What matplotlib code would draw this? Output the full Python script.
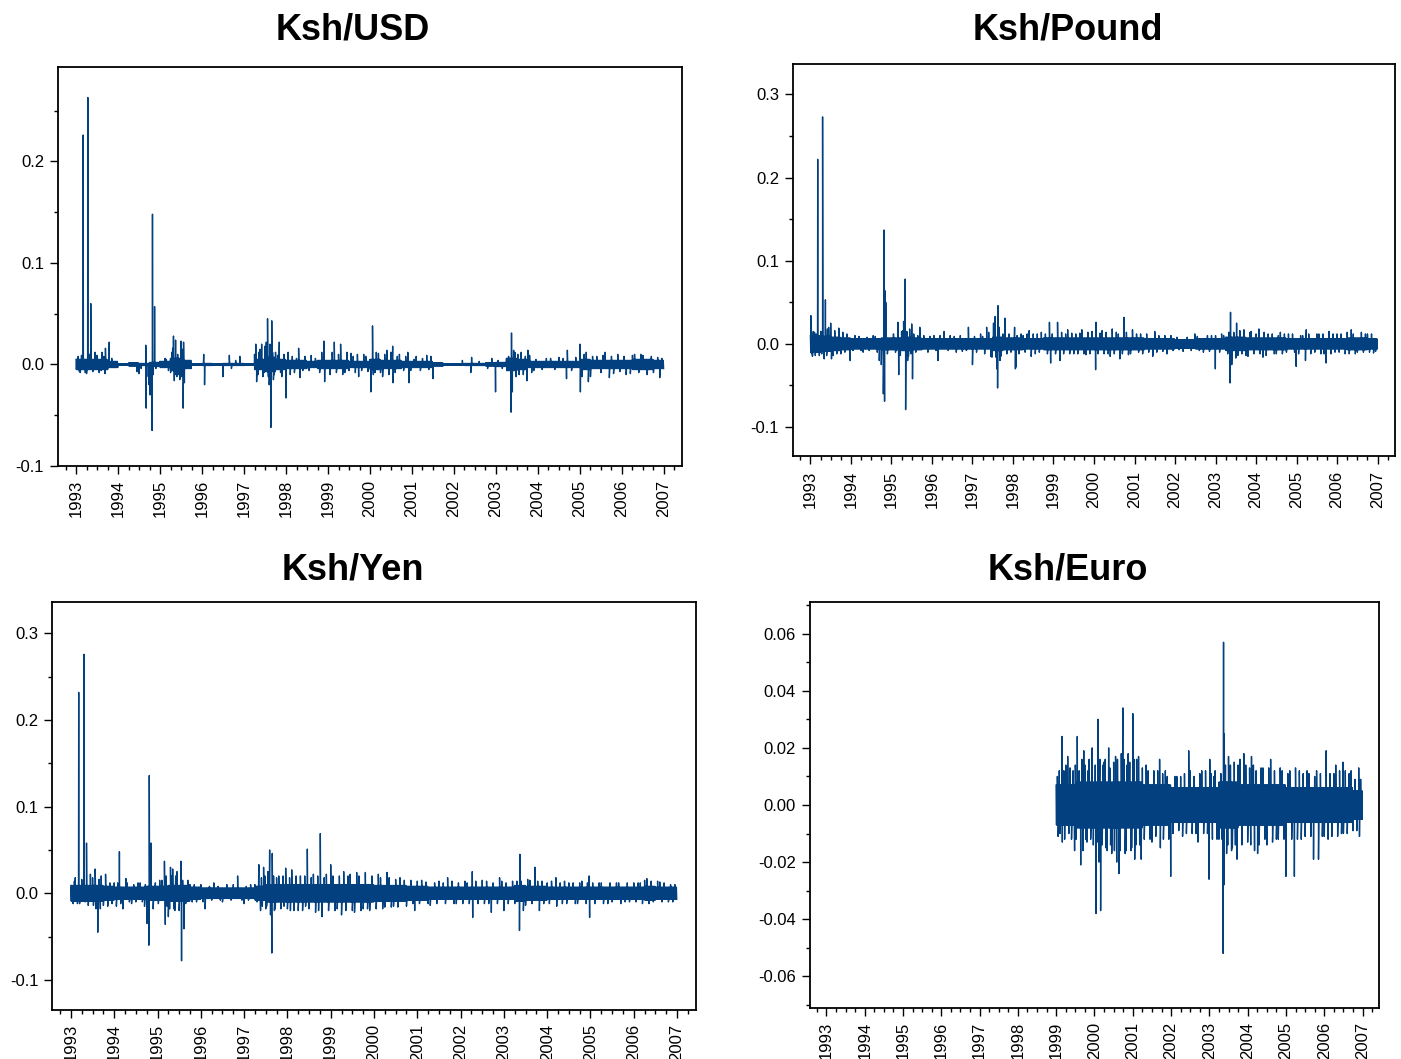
import numpy as np
import matplotlib
matplotlib.use("Agg")
import matplotlib.pyplot as plt
from matplotlib.ticker import MultipleLocator, FixedLocator

plt.rcParams['font.family'] = ['Liberation Sans', 'DejaVu Sans']

# ---------------- data ----------------
years = list(range(1993, 2008))
year_labels = [str(y) for y in years]

# quarterly half-width of the dense core of daily returns (1993Q1..2006Q4)
usd_band = [0.005, 0.005, 0.005, 0.003, 0.0008, 0.0015, 0.001, 0.002,
            0.003, 0.006, 0.004, 0.0008, 0.001, 0.0008, 0.001, 0.001,
            0.0008, 0.005, 0.007, 0.005, 0.004, 0.004, 0.003, 0.004,
            0.004, 0.004, 0.003, 0.003, 0.005, 0.004, 0.004, 0.003,
            0.003, 0.003, 0.0015, 0.0008, 0.0008, 0.001, 0.001, 0.0015,
            0.002, 0.006, 0.005, 0.003, 0.003, 0.003, 0.003, 0.003,
            0.005, 0.004, 0.004, 0.004, 0.004, 0.005, 0.005, 0.004]
# large individual moves
usd_spike_t = [1993.02, 1993.10, 1993.17, 1993.22, 1993.28, 1993.35, 1993.45, 1993.55, 1993.62, 1993.69,
               1993.70, 1993.79, 1994.45, 1994.50, 1994.55, 1994.66, 1994.67, 1994.72, 1994.74, 1994.76,
               1994.78, 1994.80, 1994.81, 1994.82, 1994.84, 1994.87, 1994.90, 1995.12, 1995.20, 1995.28,
               1995.32, 1995.34, 1995.37, 1995.40, 1995.45, 1995.50, 1995.52, 1995.55, 1995.56, 1995.58,
               1996.04, 1996.06, 1996.50, 1996.65, 1996.90, 1997.28, 1997.30, 1997.35, 1997.42, 1997.45,
               1997.50, 1997.56, 1997.60, 1997.64, 1997.66, 1997.70, 1997.75, 1997.84, 1997.90, 1998.00,
               1998.05, 1998.10, 1998.30, 1998.33, 1998.60, 1998.90, 1998.92, 1999.15, 1999.20, 1999.30,
               1999.40, 1999.55, 1999.73, 1999.85, 2000.02, 2000.06, 2000.08, 2000.15, 2000.30, 2000.40,
               2000.54, 2000.55, 2000.70, 2000.90, 2000.93, 2001.10, 2001.35, 2001.50, 2002.20, 2002.40,
               2002.42, 2002.90, 2002.99, 2003.36, 2003.37, 2003.39, 2003.45, 2003.55, 2003.60, 2003.74,
               2003.76, 2003.85, 2004.30, 2004.50, 2004.68, 2004.70, 2005.00, 2005.01, 2005.10, 2005.20,
               2005.40, 2005.60, 2005.70, 2005.90, 2006.10, 2006.30, 2006.50, 2006.60, 2006.90, 2006.95]
usd_spike_v = [0.004, -0.008, 0.226, -0.008, 0.263, 0.060, 0.012, -0.008, 0.012, -0.009,
               0.016, 0.022, -0.007, -0.009, -0.004, 0.019, -0.043, -0.012, -0.020, -0.030,
               -0.028, -0.030, -0.065, 0.148, -0.010, 0.057, -0.004, 0.006, -0.006, 0.012,
               0.028, -0.016, 0.024, -0.012, -0.010, 0.023, -0.012, -0.043, 0.022, -0.018,
               0.010, -0.020, -0.012, 0.009, 0.008, 0.020, -0.017, 0.012, 0.020, -0.012,
               0.018, 0.045, -0.020, -0.062, 0.043, -0.015, 0.012, 0.022, -0.012, -0.033,
               0.012, -0.010, 0.016, -0.013, 0.009, 0.023, -0.017, 0.022, -0.008, 0.020,
               -0.008, 0.011, -0.012, 0.010, -0.027, 0.038, -0.010, 0.012, -0.012, 0.014,
               0.018, -0.018, 0.010, 0.012, -0.018, 0.008, 0.009, -0.014, 0.004, -0.008,
               0.007, 0.006, -0.027, -0.047, 0.031, -0.027, 0.012, -0.010, 0.012, -0.016,
               0.014, -0.008, 0.006, 0.007, -0.014, 0.014, 0.020, -0.027, 0.010, -0.017,
               0.008, 0.012, -0.013, 0.010, -0.010, 0.010, 0.009, -0.010, -0.013, 0.006]
# smaller moves that make the ragged edge of the band
usd_mid = [(1993.05, 0.008), (1993.08, -0.007), (1993.13, 0.009), (1993.25, -0.009), (1993.32, 0.010),
           (1993.40, -0.007), (1993.50, 0.009), (1993.60, -0.006), (1993.66, 0.008), (1993.75, -0.005),
           (1993.85, 0.006), (1993.90, -0.003), (1995.15, 0.005), (1995.25, -0.008), (1995.30, 0.016),
           (1995.36, -0.010), (1995.42, 0.010), (1995.47, -0.015), (1995.53, 0.015), (1996.70, -0.004),
           (1996.80, 0.004), (1997.25, 0.010), (1997.33, -0.010), (1997.38, 0.015), (1997.48, -0.008),
           (1997.53, 0.022), (1997.58, -0.012), (1997.62, 0.020), (1997.68, 0.012), (1997.72, -0.010),
           (1997.80, 0.009), (1997.87, -0.008), (1997.95, 0.010), (1998.15, 0.008), (1998.20, -0.008),
           (1998.25, 0.006), (1998.40, -0.006), (1998.45, 0.008), (1998.55, -0.006), (1998.70, 0.006),
           (1998.80, -0.008), (1998.85, 0.012), (1999.05, -0.010), (1999.10, 0.012), (1999.25, 0.010),
           (1999.35, -0.010), (1999.45, 0.012), (1999.50, -0.006), (1999.60, 0.008), (1999.65, -0.008),
           (1999.70, 0.010), (1999.80, -0.006), (1999.90, 0.008), (1999.95, -0.007), (2000.12, -0.008),
           (2000.20, 0.011), (2000.25, -0.008), (2000.35, 0.010), (2000.45, -0.010), (2000.50, 0.012),
           (2000.60, -0.008), (2000.65, 0.008), (2000.80, -0.006), (2000.85, 0.008), (2000.97, -0.006),
           (2001.05, 0.005), (2001.20, -0.006), (2001.25, 0.006), (2001.40, -0.005), (2001.45, 0.008),
           (2002.60, 0.003), (2002.80, -0.004), (2003.05, 0.004), (2003.15, -0.004), (2003.30, 0.008),
           (2003.42, 0.014), (2003.48, -0.012), (2003.52, 0.010), (2003.65, -0.010), (2003.70, 0.008),
           (2003.80, 0.009), (2003.90, -0.006), (2003.95, 0.005), (2004.10, -0.005), (2004.20, 0.006),
           (2004.40, -0.005), (2004.60, 0.006), (2004.80, -0.006), (2004.90, 0.007), (2005.05, -0.012),
           (2005.15, 0.012), (2005.25, -0.012), (2005.30, 0.008), (2005.50, -0.008), (2005.55, 0.009),
           (2005.75, 0.008), (2005.80, -0.009), (2005.95, -0.007), (2006.05, 0.008), (2006.20, -0.009),
           (2006.25, 0.009), (2006.40, -0.008), (2006.45, 0.010), (2006.70, 0.008), (2006.75, -0.008),
           (2006.85, 0.007)]

pound_band = [0.010, 0.009, 0.008, 0.007, 0.006, 0.006, 0.006, 0.007,
              0.007, 0.008, 0.007, 0.006, 0.006, 0.006, 0.006, 0.006,
              0.006, 0.006, 0.008, 0.007, 0.007, 0.006, 0.006, 0.007,
              0.007, 0.007, 0.007, 0.007, 0.007, 0.007, 0.007, 0.007,
              0.007, 0.006, 0.006, 0.006, 0.005, 0.005, 0.006, 0.006,
              0.006, 0.008, 0.008, 0.007, 0.007, 0.007, 0.007, 0.006,
              0.006, 0.006, 0.006, 0.006, 0.006, 0.007, 0.007, 0.006]
pound_spike_t = [1993.01, 1993.05, 1993.10, 1993.18, 1993.22, 1993.30, 1993.34, 1993.37, 1993.45, 1993.50,
                 1993.52, 1993.70, 1993.75, 1993.98, 1994.10, 1994.30, 1994.55, 1994.70, 1994.75, 1994.80,
                 1994.82, 1994.83, 1994.84, 1994.86, 1994.90, 1995.05, 1995.16, 1995.18, 1995.25, 1995.30,
                 1995.34, 1995.35, 1995.40, 1995.45, 1995.50, 1995.52, 1995.70, 1995.90, 1996.15, 1996.30,
                 1996.60, 1996.90, 1997.00, 1997.20, 1997.35, 1997.45, 1997.52, 1997.56, 1997.60, 1997.62,
                 1997.63, 1997.70, 1997.80, 1997.85, 1998.04, 1998.06, 1998.07, 1998.20, 1998.40, 1998.45,
                 1998.70, 1998.90, 1998.93, 1999.10, 1999.16, 1999.35, 1999.50, 1999.70, 1999.80, 1999.95,
                 2000.04, 2000.05, 2000.20, 2000.40, 2000.45, 2000.64, 2000.74, 2000.85, 2000.95, 2001.20,
                 2001.45, 2001.50, 2001.80, 2001.90, 2002.20, 2002.49, 2002.70, 2002.995, 2003.00, 2003.20,
                 2003.36, 2003.37, 2003.40, 2003.50, 2003.52, 2003.70, 2003.80, 2003.88, 2004.07, 2004.17,
                 2004.30, 2004.50, 2004.60, 2004.80, 2004.99, 2005.10, 2005.22, 2005.24, 2005.50, 2005.60,
                 2005.73, 2005.80, 2006.00, 2006.20, 2006.35, 2006.50, 2006.70, 2006.90]
pound_spike_v = [0.034, -0.015, 0.014, 0.222, -0.014, 0.273, -0.018, 0.053, 0.020, 0.025,
                 -0.018, 0.019, -0.012, -0.020, 0.010, -0.010, 0.010, -0.020, -0.025, -0.060,
                 0.137, -0.069, 0.064, 0.050, -0.012, 0.012, 0.026, -0.037, 0.015, 0.027,
                 0.078, -0.079, -0.020, 0.018, 0.024, -0.042, 0.020, -0.010, -0.020, 0.015,
                 -0.010, 0.020, -0.025, 0.012, 0.020, -0.015, 0.025, 0.033, -0.030, -0.053,
                 0.046, -0.015, 0.031, -0.012, 0.020, -0.030, -0.028, 0.012, 0.016, -0.015,
                 0.014, 0.026, -0.023, 0.026, -0.020, 0.017, -0.012, 0.017, -0.013, 0.015,
                 -0.031, 0.026, 0.016, -0.015, 0.018, -0.018, 0.032, -0.013, 0.017, -0.012,
                 -0.015, 0.015, -0.012, 0.010, -0.009, 0.012, -0.010, -0.030, 0.010, 0.010,
                 -0.047, 0.038, -0.025, -0.017, 0.025, 0.017, -0.015, 0.015, 0.018, -0.016,
                 0.012, -0.012, 0.014, 0.012, -0.027, 0.010, -0.020, 0.017, 0.012, -0.012,
                 -0.023, 0.015, 0.012, -0.012, 0.017, -0.010, 0.012, -0.011]
pound_mid = [(1993.03, -0.012), (1993.07, 0.015), (1993.12, -0.014), (1993.14, 0.012), (1993.26, 0.015),
             (1993.28, -0.012), (1993.40, -0.014), (1993.42, 0.018), (1993.56, -0.014), (1993.60, 0.016),
             (1993.65, -0.012), (1993.80, 0.014), (1993.85, -0.010), (1993.90, 0.012), (1994.05, -0.008),
             (1994.20, 0.009), (1994.25, -0.008), (1994.40, 0.008), (1994.45, -0.008), (1994.60, 0.009),
             (1994.65, -0.010), (1995.10, -0.010), (1995.22, -0.014), (1995.28, 0.016), (1995.38, 0.015),
             (1995.42, -0.015), (1995.48, -0.012), (1995.55, 0.012), (1995.60, -0.010), (1995.65, 0.010),
             (1995.80, 0.010), (1995.95, 0.009), (1996.05, 0.010), (1996.10, -0.008), (1996.20, 0.010),
             (1996.40, -0.008), (1996.45, 0.010), (1996.55, 0.009), (1996.70, 0.010), (1996.75, -0.009),
             (1996.85, -0.008), (1997.05, 0.009), (1997.10, -0.010), (1997.25, 0.009), (1997.30, -0.012),
             (1997.40, 0.014), (1997.48, -0.016), (1997.54, 0.020), (1997.58, -0.016), (1997.66, 0.020),
             (1997.68, -0.020), (1997.75, 0.012), (1997.90, 0.012), (1997.95, -0.010), (1998.10, 0.010),
             (1998.15, -0.012), (1998.25, 0.010), (1998.30, -0.010), (1998.35, 0.012), (1998.50, 0.012),
             (1998.55, -0.012), (1998.60, 0.012), (1998.65, -0.010), (1998.80, 0.012), (1998.85, -0.012),
             (1998.97, 0.012), (1999.05, -0.012), (1999.20, 0.014), (1999.25, -0.012), (1999.30, 0.012),
             (1999.40, -0.012), (1999.45, 0.013), (1999.55, 0.012), (1999.60, -0.012), (1999.65, 0.013),
             (1999.75, -0.012), (1999.85, 0.014), (1999.90, -0.012), (2000.10, -0.012), (2000.15, 0.013),
             (2000.25, -0.012), (2000.30, 0.014), (2000.35, -0.012), (2000.50, -0.012), (2000.55, 0.014),
             (2000.60, 0.012), (2000.70, -0.012), (2000.80, 0.014), (2000.90, -0.012), (2001.05, 0.012),
             (2001.10, -0.010), (2001.15, 0.012), (2001.30, 0.012), (2001.35, -0.010), (2001.55, -0.010),
             (2001.60, 0.010), (2001.70, -0.009), (2001.75, 0.010), (2001.95, -0.008), (2002.05, 0.008),
             (2002.10, -0.007), (2002.30, 0.008), (2002.40, -0.008), (2002.55, 0.009), (2002.60, -0.008),
             (2002.80, 0.010), (2002.85, -0.009), (2002.90, 0.010), (2003.10, -0.010), (2003.15, 0.012),
             (2003.30, -0.012), (2003.33, 0.014), (2003.45, 0.014), (2003.55, -0.014), (2003.60, 0.016),
             (2003.65, -0.012), (2003.75, -0.014), (2003.85, 0.014), (2003.95, -0.012), (2004.00, 0.012),
             (2004.10, -0.012), (2004.20, 0.014), (2004.25, -0.014), (2004.40, 0.012), (2004.45, -0.012),
             (2004.55, 0.010), (2004.65, -0.012), (2004.70, 0.012), (2004.75, -0.010), (2004.90, 0.012),
             (2004.95, -0.010), (2005.05, -0.012), (2005.15, 0.010), (2005.30, 0.012), (2005.35, -0.012),
             (2005.45, -0.010), (2005.55, 0.012), (2005.65, 0.012), (2005.68, -0.012), (2005.85, -0.012),
             (2005.90, 0.012), (2005.95, -0.010), (2006.05, -0.010), (2006.10, 0.012), (2006.25, 0.014),
             (2006.30, -0.012), (2006.40, 0.012), (2006.45, -0.012), (2006.60, 0.014), (2006.65, -0.010),
             (2006.75, 0.012), (2006.80, -0.010), (2006.85, 0.012), (2006.95, -0.009)]

yen_band = [0.009, 0.009, 0.009, 0.008, 0.007, 0.007, 0.007, 0.008,
            0.008, 0.009, 0.009, 0.007, 0.006, 0.006, 0.006, 0.006,
            0.006, 0.008, 0.010, 0.010, 0.010, 0.010, 0.010, 0.010,
            0.010, 0.010, 0.010, 0.010, 0.009, 0.009, 0.009, 0.008,
            0.008, 0.007, 0.007, 0.007, 0.007, 0.007, 0.007, 0.007,
            0.007, 0.009, 0.008, 0.008, 0.007, 0.007, 0.007, 0.007,
            0.007, 0.007, 0.007, 0.007, 0.007, 0.008, 0.007, 0.007]
yen_spike_t = [1993.01, 1993.10, 1993.15, 1993.18, 1993.30, 1993.33, 1993.36, 1993.45, 1993.56, 1993.58,
               1993.62, 1993.70, 1993.80, 1993.85, 1994.00, 1994.05, 1994.12, 1994.20, 1994.27, 1994.40,
               1994.55, 1994.65, 1994.76, 1994.80, 1994.81, 1994.85, 1994.90, 1995.05, 1995.16, 1995.18,
               1995.25, 1995.30, 1995.35, 1995.40, 1995.45, 1995.54, 1995.555, 1995.61, 1995.70, 1995.80,
               1996.10, 1996.30, 1996.50, 1996.60, 1996.85, 1997.00, 1997.15, 1997.34, 1997.38, 1997.45,
               1997.50, 1997.55, 1997.59, 1997.61, 1997.64, 1997.65, 1997.70, 1997.80, 1997.96, 1998.00,
               1998.10, 1998.15, 1998.30, 1998.35, 1998.46, 1998.50, 1998.60, 1998.65, 1998.76, 1998.80,
               1998.90, 1999.00, 1999.10, 1999.25, 1999.30, 1999.45, 1999.55, 1999.60, 1999.75, 1999.80,
               1999.90, 2000.10, 2000.20, 2000.30, 2000.45, 2000.60, 2000.94, 2001.10, 2001.30, 2001.50,
               2001.70, 2001.90, 2002.10, 2002.27, 2002.28, 2002.50, 2002.71, 2002.90, 2003.00, 2003.20,
               2003.36, 2003.37, 2003.45, 2003.60, 2003.72, 2003.82, 2004.00, 2004.20, 2004.22, 2004.50,
               2004.70, 2004.80, 2004.97, 2004.98, 2005.20, 2005.40, 2005.60, 2005.80, 2006.10, 2006.30,
               2006.35, 2006.60, 2006.80]
yen_spike_v = [0.005, 0.018, -0.012, 0.232, 0.276, -0.010, 0.058, 0.022, 0.028, -0.018,
               -0.045, 0.020, 0.022, -0.015, 0.012, -0.015, 0.048, -0.018, 0.017, -0.012,
               0.012, -0.010, -0.035, -0.060, 0.136, 0.058, -0.018, 0.015, 0.037, -0.036,
               -0.027, 0.030, 0.028, -0.020, 0.025, 0.037, -0.078, -0.041, 0.015, -0.010,
               -0.018, 0.012, -0.010, 0.010, 0.020, -0.012, 0.010, 0.033, -0.020, 0.030,
               -0.018, 0.025, 0.050, -0.025, -0.069, 0.046, -0.020, 0.020, 0.029, -0.018,
               0.027, -0.020, 0.020, -0.020, 0.051, -0.018, 0.022, -0.022, 0.069, -0.027,
               0.022, 0.033, -0.020, -0.025, 0.025, 0.022, -0.022, 0.024, -0.018, 0.024,
               -0.020, 0.022, -0.018, 0.024, -0.015, 0.018, -0.020, 0.015, -0.014, 0.014,
               0.018, -0.012, 0.014, 0.025, -0.028, 0.015, -0.022, 0.018, -0.020, 0.014,
               -0.043, 0.045, -0.020, 0.015, 0.030, -0.020, 0.012, 0.018, -0.015, 0.012,
               -0.012, 0.014, 0.020, -0.028, 0.012, -0.012, 0.012, -0.010, 0.012, 0.017,
               -0.012, 0.013, -0.010]
yen_mid = [(1993.05, -0.012), (1993.08, 0.014), (1993.20, -0.012), (1993.25, 0.016), (1993.40, -0.014),
           (1993.50, 0.018), (1993.52, -0.014), (1993.65, 0.016), (1993.68, -0.018), (1993.75, -0.014),
           (1993.90, 0.012), (1993.95, -0.012), (1994.08, 0.012), (1994.15, -0.012), (1994.30, 0.012),
           (1994.35, -0.010), (1994.45, 0.010), (1994.50, -0.010), (1994.60, 0.012), (1994.70, -0.015),
           (1994.72, 0.010), (1994.95, 0.012), (1995.02, -0.012), (1995.10, 0.015), (1995.20, 0.020),
           (1995.22, -0.015), (1995.28, -0.018), (1995.33, 0.020), (1995.38, -0.018), (1995.42, 0.020),
           (1995.50, -0.020), (1995.58, 0.015), (1995.65, -0.012), (1995.75, 0.010), (1995.85, 0.010),
           (1995.90, -0.010), (1996.00, 0.010), (1996.05, -0.010), (1996.20, 0.008), (1996.25, -0.008),
           (1996.40, 0.008), (1996.45, -0.008), (1996.70, -0.008), (1996.75, 0.010), (1996.95, -0.008),
           (1997.05, 0.008), (1997.10, -0.008), (1997.25, 0.010), (1997.30, -0.010), (1997.40, 0.018),
           (1997.42, -0.015), (1997.48, 0.020), (1997.52, -0.015), (1997.68, 0.020), (1997.72, -0.018),
           (1997.75, 0.018), (1997.85, -0.018), (1997.90, 0.020), (1997.92, -0.015), (1998.05, 0.018),
           (1998.07, -0.020), (1998.20, 0.020), (1998.25, -0.020), (1998.40, 0.020), (1998.42, -0.015),
           (1998.55, 0.018), (1998.70, 0.020), (1998.72, -0.020), (1998.85, 0.018), (1998.95, -0.020),
           (1999.05, 0.020), (1999.15, -0.018), (1999.20, 0.020), (1999.35, -0.020), (1999.40, 0.020),
           (1999.50, -0.020), (1999.65, 0.020), (1999.70, -0.020), (1999.85, -0.018), (1999.95, 0.020),
           (2000.05, -0.018), (2000.15, 0.018), (2000.25, -0.016), (2000.35, 0.018), (2000.40, -0.016),
           (2000.50, 0.016), (2000.55, -0.016), (2000.70, 0.015), (2000.75, -0.015), (2000.85, 0.015),
           (2000.90, -0.012), (2001.00, 0.014), (2001.05, -0.012), (2001.20, 0.013), (2001.25, -0.012),
           (2001.40, 0.012), (2001.45, -0.012), (2001.60, 0.012), (2001.65, -0.012), (2001.80, 0.014),
           (2001.85, -0.012), (2001.95, 0.012), (2002.05, -0.012), (2002.15, 0.012), (2002.20, -0.012),
           (2002.35, 0.014), (2002.40, -0.012), (2002.55, -0.012), (2002.60, 0.014), (2002.65, -0.012),
           (2002.75, 0.012), (2002.85, -0.012), (2002.95, 0.014), (2003.05, 0.012), (2003.10, -0.012),
           (2003.25, -0.012), (2003.30, 0.014), (2003.40, 0.014), (2003.50, -0.014), (2003.55, 0.016),
           (2003.65, -0.012), (2003.78, 0.014), (2003.88, 0.014), (2003.92, -0.012), (2004.05, -0.012),
           (2004.10, 0.014), (2004.30, 0.012), (2004.35, -0.012), (2004.40, 0.014), (2004.45, -0.012),
           (2004.60, 0.012), (2004.65, -0.012), (2004.75, 0.012), (2004.90, -0.012), (2004.93, 0.012),
           (2005.05, 0.012), (2005.10, -0.012), (2005.25, 0.012), (2005.30, -0.012), (2005.45, 0.012),
           (2005.50, -0.010), (2005.65, 0.012), (2005.70, -0.012), (2005.85, 0.012), (2005.90, -0.010),
           (2006.00, 0.012), (2006.05, -0.010), (2006.15, 0.012), (2006.20, -0.012), (2006.25, 0.015),
           (2006.40, 0.014), (2006.45, -0.010), (2006.55, 0.014), (2006.65, -0.010), (2006.70, 0.012),
           (2006.85, 0.010), (2006.90, -0.010), (2006.95, 0.010)]

# Euro series starts 1999Q1
euro_band = [0.007, 0.007, 0.008, 0.008, 0.008, 0.008, 0.008, 0.008,
             0.008, 0.007, 0.007, 0.007, 0.006, 0.006, 0.006, 0.006,
             0.006, 0.008, 0.008, 0.007, 0.007, 0.007, 0.007, 0.007,
             0.006, 0.006, 0.006, 0.006, 0.006, 0.006, 0.006, 0.005]
euro_spike_t = [1999.01, 1999.05, 1999.15, 1999.16, 1999.30, 1999.40, 1999.48, 1999.55, 1999.64, 1999.70,
                1999.72, 1999.80, 1999.86, 1999.94, 2000.04, 2000.09, 2000.12, 2000.16, 2000.25, 2000.30,
                2000.37, 2000.45, 2000.55, 2000.58, 2000.64, 2000.70, 2000.74, 2000.80, 2000.88, 2000.95,
                2001.00, 2001.05, 2001.15, 2001.22, 2001.35, 2001.50, 2001.70, 2001.72, 2001.85, 2001.99,
                2002.10, 2002.30, 2002.46, 2002.55, 2002.70, 2002.80, 2002.99, 2003.01, 2003.15, 2003.25,
                2003.36, 2003.37, 2003.38, 2003.39, 2003.45, 2003.50, 2003.60, 2003.72, 2003.80, 2003.90,
                2004.00, 2004.10, 2004.18, 2004.26, 2004.35, 2004.50, 2004.60, 2004.75, 2004.85, 2005.00,
                2005.10, 2005.22, 2005.25, 2005.40, 2005.55, 2005.72, 2005.80, 2005.85, 2006.05, 2006.10,
                2006.30, 2006.49, 2006.50, 2006.70, 2006.90, 2006.92]
euro_spike_v = [0.007, -0.011, 0.024, -0.013, 0.017, -0.012, -0.016, 0.024, -0.021, -0.016,
                0.019, -0.013, 0.016, 0.020, -0.038, 0.030, -0.020, -0.037, 0.015, -0.015,
                0.020, -0.017, 0.017, -0.020, -0.024, 0.018, 0.034, -0.017, 0.018, -0.016,
                0.032, -0.019, 0.017, -0.019, 0.014, -0.013, 0.016, -0.015, 0.012, -0.025,
                0.010, -0.011, 0.019, -0.010, -0.013, 0.012, -0.026, 0.016, 0.012, -0.012,
                -0.052, 0.057, -0.028, 0.025, -0.017, 0.017, -0.015, -0.019, 0.016, 0.018,
                -0.013, 0.017, -0.016, -0.017, 0.013, -0.014, 0.016, -0.012, 0.013, -0.025,
                0.012, -0.025, 0.013, -0.012, 0.012, -0.019, 0.012, -0.019, 0.019, -0.012,
                0.014, 0.015, -0.010, 0.012, 0.013, -0.011]
euro_mid = [(1999.03, 0.010), (1999.08, 0.012), (1999.10, -0.010), (1999.20, 0.012), (1999.22, -0.012),
            (1999.25, 0.014), (1999.33, -0.010), (1999.36, 0.013), (1999.44, 0.012), (1999.50, 0.014),
            (1999.52, -0.012), (1999.60, 0.012), (1999.67, 0.016), (1999.75, 0.014), (1999.77, -0.012),
            (1999.83, 0.012), (1999.90, -0.012), (1999.97, -0.014), (2000.02, 0.014), (2000.07, -0.013),
            (2000.14, 0.016), (2000.20, -0.014), (2000.22, 0.014), (2000.28, 0.016), (2000.33, -0.016),
            (2000.40, 0.013), (2000.42, -0.014), (2000.50, 0.015), (2000.52, -0.016), (2000.60, 0.016),
            (2000.67, -0.016), (2000.77, 0.016), (2000.83, -0.016), (2000.85, 0.014), (2000.92, 0.015),
            (2000.97, -0.015), (2001.03, 0.016), (2001.08, -0.014), (2001.10, 0.016), (2001.18, -0.014),
            (2001.25, 0.013), (2001.30, -0.012), (2001.40, 0.012), (2001.45, -0.012), (2001.55, 0.012),
            (2001.60, -0.011), (2001.65, 0.012), (2001.78, 0.011), (2001.80, -0.012), (2001.90, 0.010),
            (2001.94, -0.012), (2002.05, -0.010), (2002.15, 0.010), (2002.20, -0.009), (2002.25, 0.010),
            (2002.35, 0.011), (2002.40, -0.010), (2002.50, 0.012), (2002.60, 0.010), (2002.65, -0.010),
            (2002.75, 0.011), (2002.85, -0.010), (2002.90, 0.012), (2002.95, -0.010), (2003.05, 0.011),
            (2003.08, -0.012), (2003.12, 0.010), (2003.20, -0.012), (2003.30, 0.011), (2003.33, -0.012),
            (2003.42, 0.014), (2003.48, -0.014), (2003.55, 0.014), (2003.58, -0.016), (2003.65, 0.015),
            (2003.68, -0.014), (2003.75, 0.014), (2003.85, -0.014), (2003.95, 0.014), (2004.05, 0.013),
            (2004.08, -0.014), (2004.15, 0.014), (2004.22, 0.012), (2004.30, -0.014), (2004.40, 0.013),
            (2004.45, -0.012), (2004.55, 0.013), (2004.65, -0.013), (2004.70, 0.012), (2004.80, -0.012),
            (2004.90, 0.012), (2004.95, -0.012), (2005.05, 0.011), (2005.15, -0.012), (2005.30, -0.012),
            (2005.35, 0.012), (2005.45, 0.011), (2005.50, -0.011), (2005.60, 0.011), (2005.65, -0.011),
            (2005.75, 0.010), (2005.90, 0.011), (2005.95, -0.011), (2006.00, -0.011), (2006.15, 0.011),
            (2006.20, -0.011), (2006.25, 0.011), (2006.35, -0.011), (2006.40, 0.012), (2006.45, -0.010),
            (2006.55, 0.012), (2006.60, -0.010), (2006.65, 0.011), (2006.75, -0.009), (2006.80, 0.009),
            (2006.85, -0.009), (2006.95, 0.009)]


# ---------------- helpers ----------------
def build_series(start, band, spike_t, spike_v, mid, per_q=30):
    """Dense core drawn as alternating excursions to the quarterly band edges,
    with the individually read moves inserted at their dates."""
    ts, vs = [], []
    for q, w in enumerate(band):
        k = np.arange(per_q)
        ts.append(start + q * 0.25 + k * (0.25 / per_q))
        vs.append(np.where(k % 2 == 0, 1.0, -1.0) * w)
    ts.append(np.asarray(spike_t, float))
    vs.append(np.asarray(spike_v, float))
    ts.append(np.array([m[0] for m in mid], float))
    vs.append(np.array([m[1] for m in mid], float))
    t = np.concatenate(ts)
    v = np.concatenate(vs)
    o = np.argsort(t, kind="stable")
    return t[o], v[o]


LINE_COLOR = '#02407f'
TICK_FS = 12
DPI = 100
W, H = 1401, 1059

fig = plt.figure(figsize=(W / DPI, H / DPI), dpi=DPI)


def add_axes_px(left, top, right, bottom):
    return fig.add_axes([left / W, 1 - bottom / H, (right - left) / W, (bottom - top) / H])


panels = [
    dict(name='Ksh/USD', box=(58, 67, 682, 466), ylim=(-0.1, 0.293),
         major=[-0.1, 0.0, 0.1, 0.2], minor=0.05, fmt='{:.1f}',
         series=(1993.0, usd_band, usd_spike_t, usd_spike_v, usd_mid), title=(353, 39)),
    dict(name='Ksh/Pound', box=(793, 64.5, 1395, 456.5), ylim=(-0.1354, 0.336),
         major=[-0.1, 0.0, 0.1, 0.2, 0.3], minor=0.05, fmt='{:.1f}',
         series=(1993.0, pound_band, pound_spike_t, pound_spike_v, pound_mid), title=(1068, 39)),
    dict(name='Ksh/Yen', box=(52.3, 602.3, 695.7, 1010), ylim=(-0.1348, 0.336),
         major=[-0.1, 0.0, 0.1, 0.2, 0.3], minor=0.05, fmt='{:.1f}',
         series=(1993.0, yen_band, yen_spike_t, yen_spike_v, yen_mid), title=(353, 579)),
    dict(name='Ksh/Euro', box=(810, 602.3, 1379, 1007.7), ylim=(-0.071, 0.071),
         major=[-0.06, -0.04, -0.02, 0.0, 0.02, 0.04, 0.06], minor=0.01, fmt='{:.2f}',
         series=(1999.0, euro_band, euro_spike_t, euro_spike_v, euro_mid), title=(1068, 579)),
]

for p in panels:
    ax = add_axes_px(*p['box'])
    t, v = build_series(*p['series'])
    ax.plot(t, v, color=LINE_COLOR, lw=1.0)
    ax.set_xlim(1992.57, 2007.43)
    ax.set_ylim(*p['ylim'])
    ax.xaxis.set_major_locator(FixedLocator(years))
    ax.xaxis.set_minor_locator(MultipleLocator(0.25))
    ax.set_xticklabels(year_labels, rotation=90)
    ax.yaxis.set_major_locator(FixedLocator(p['major']))
    ax.yaxis.set_minor_locator(MultipleLocator(p['minor']))
    ax.set_yticklabels([p['fmt'].format(x) for x in p['major']])
    ax.tick_params(axis='both', which='major', direction='out', length=6, width=1.0,
                   labelsize=TICK_FS, pad=4, colors='black')
    ax.tick_params(axis='both', which='minor', direction='out', length=3, width=1.0)
    for s in ax.spines.values():
        s.set_linewidth(1.3)
        s.set_color('black')
    tx, ty = p['title']
    fig.text(tx / W, 1 - ty / H, p['name'], ha='center', va='baseline',
             fontsize=26, fontweight='bold',
             family=['Liberation Sans Narrow', 'Liberation Sans', 'DejaVu Sans'])

fig.savefig('out.png', dpi=DPI)
